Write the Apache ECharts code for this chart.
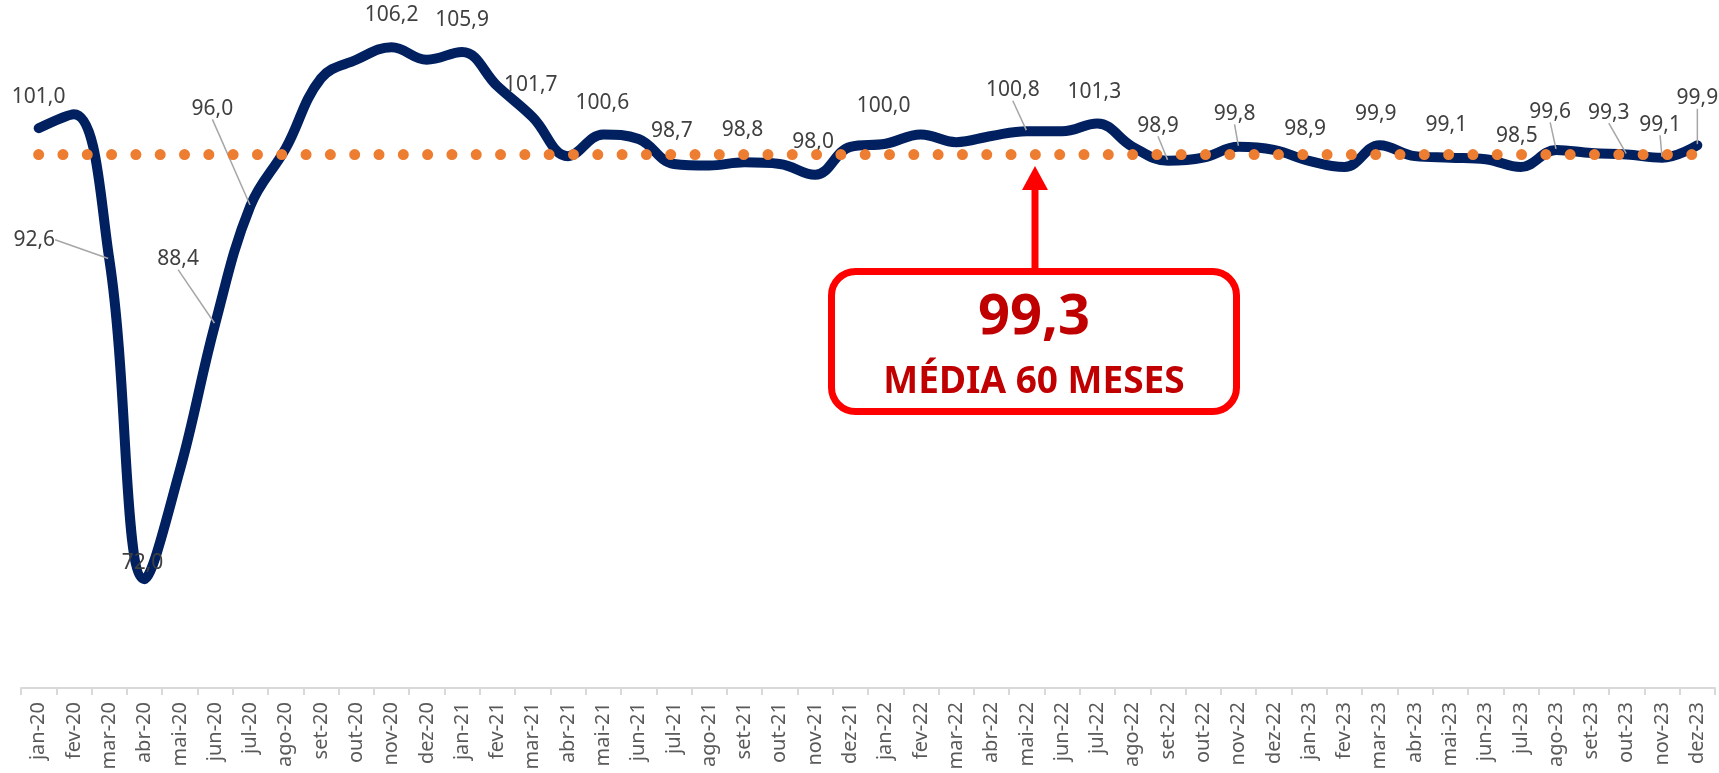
<!DOCTYPE html>
<html>
<head>
<meta charset="utf-8">
<script src="https://cdn.jsdelivr.net/npm/echarts@6/dist/echarts.min.js"></script>
<style>
html,body{margin:0;padding:0;background:#fff;}
#chart{width:1719px;height:773px;}
</style>
</head>
<body>
<div id="chart"></div>
<script>
/*meses do eixo*/
var meses=["jan-20","fev-20","mar-20","abr-20","mai-20","jun-20","jul-20","ago-20","set-20","out-20","nov-20","dez-20",
    "jan-21","fev-21","mar-21","abr-21","mai-21","jun-21","jul-21","ago-21","set-21","out-21","nov-21","dez-21",
    "jan-22","fev-22","mar-22","abr-22","mai-22","jun-22","jul-22","ago-22","set-22","out-22","nov-22","dez-22",
    "jan-23","fev-23","mar-23","abr-23","mai-23","jun-23","jul-23","ago-23","set-23","out-23","nov-23","dez-23"];
/*indice mensal*/
var indice=[101.0,101.9,92.6,72.0,79.0,88.4,96.0,99.7,104.2,105.4,106.2,105.4,
    105.9,103.7,101.7,99.2,100.6,100.3,98.7,98.6,98.8,98.7,98.0,99.8,
    100.0,100.6,100.1,100.5,100.8,100.8,101.3,99.8,98.9,99.1,99.8,99.6,
    98.9,98.5,99.9,99.2,99.1,99.0,98.5,99.6,99.4,99.3,99.1,99.9];
/*media de 60 meses*/
var media=99.3;
var mediaSerie=meses.map(function(){return media;});
/*meses com rotulo*/
var rotulados=[0,2,3,5,6,10,12,14,16,18,20,22,24,28,30,32,34,36,38,40,42,43,45,46,47];

/*deslocamento dos rotulos: [dx, dy, linha guia]*/
var posRotulo={
    0:[0,-31,false],2:[-75,-19,true],3:[-2,-16,false],5:[-37,-65,true],6:[-38,-97,true],
    10:[0,-32,false],12:[0,-32,false],14:[-2,-32,false],16:[-1,-31,false],18:[-2,-33,false],
    20:[-2,-32,false],22:[-2,-33,false],24:[-2,-38,false],28:[-14,-41,true],30:[-3,-31,false],
    32:[-10,-35,true],34:[-4,-33,true],36:[-4,-32,false],38:[-4,-31,false],40:[-4,-33,false],
    42:[-4,-31,false],43:[-6,-38,true],45:[-18,-42,true],46:[-2,-33,true],47:[0,-47,true]
};

window.onload=function(){
    var chart=echarts.init(document.getElementById("chart"),null,{renderer:"canvas"});
    var dados=[];
    for(var i=0;i<indice.length;i++){
        var tem=rotulados.indexOf(i)>=0;
        var p=posRotulo[i];
        dados.push({
            value:indice[i],
            label:{show:tem},
            labelLine:{show:tem&&p&&p[2]}
        });
    }
    var option={
        backgroundColor:"#fff",
        animation:false,
        grid:{left:21,right:4,top:19.3,bottom:85},
        xAxis:{
            type:"category",
            data:meses,
            boundaryGap:true,
            axisLine:{lineStyle:{color:"#d9d9d9",width:2}},
            axisTick:{show:true,length:7,lineStyle:{color:"#d9d9d9",width:2}},
            axisLabel:{rotate:90,margin:14,color:"#595959",fontSize:20,fontFamily:"Noto Sans",interval:0}
        },
        yAxis:{
            type:"value",min:65,max:108,
            show:false,splitLine:{show:false}
        },
        series:[
            {
                name:"Indice",
                type:"line",
                data:dados,
                smooth:0.4,
                symbol:"circle",
                symbolSize:2,
                itemStyle:{color:"#002060"},
                lineStyle:{color:"#002060",width:10,cap:"round",join:"round"},
                label:{
                    position:"inside",
                    color:"#404040",
                    fontSize:21,
                    fontFamily:"Noto Sans",
                    formatter:function(p){return p.value.toFixed(1).replace(".",",");}
                },
                labelLine:{lineStyle:{color:"#a6a6a6",width:1.5}},
                labelLayout:function(params){
                    var p=posRotulo[params.dataIndex];
                    if(!p) return {};
                    return {dx:p[0],dy:p[1]};
                },
                z:2
            },
            {
                name:"Media",
                type:"line",
                data:mediaSerie,
                symbol:"none",
                lineStyle:{color:"#ED7D31",width:11,type:[0.01,24.3],cap:"round"},
                z:3
            }
        ],
        graphic:[
            {type:"line",shape:{x1:1035,y1:270,x2:1035,y2:186},style:{stroke:"#FF0000",lineWidth:7},z:10},
            {type:"polygon",shape:{points:[[1022,190],[1048,190],[1035,166]]},style:{fill:"#FF0000"},z:10},
            {type:"rect",shape:{x:831.5,y:271.5,width:405,height:140,r:24},style:{fill:"#fff",stroke:"#FF0000",lineWidth:7},z:10},
            {type:"text",x:1034,y:318,style:{text:"99,3",fill:"#C00000",font:"bold 56px 'Noto Sans'",textAlign:"center",textVerticalAlign:"middle"},z:11},
            {type:"text",x:1034,y:382,style:{text:"MÉDIA 60 MESES",fill:"#C00000",font:"bold 37px 'Noto Sans'",textAlign:"center",textVerticalAlign:"middle"},z:11}
        ]
    };
    chart.setOption(option);
};
</script>
</body>
</html>
